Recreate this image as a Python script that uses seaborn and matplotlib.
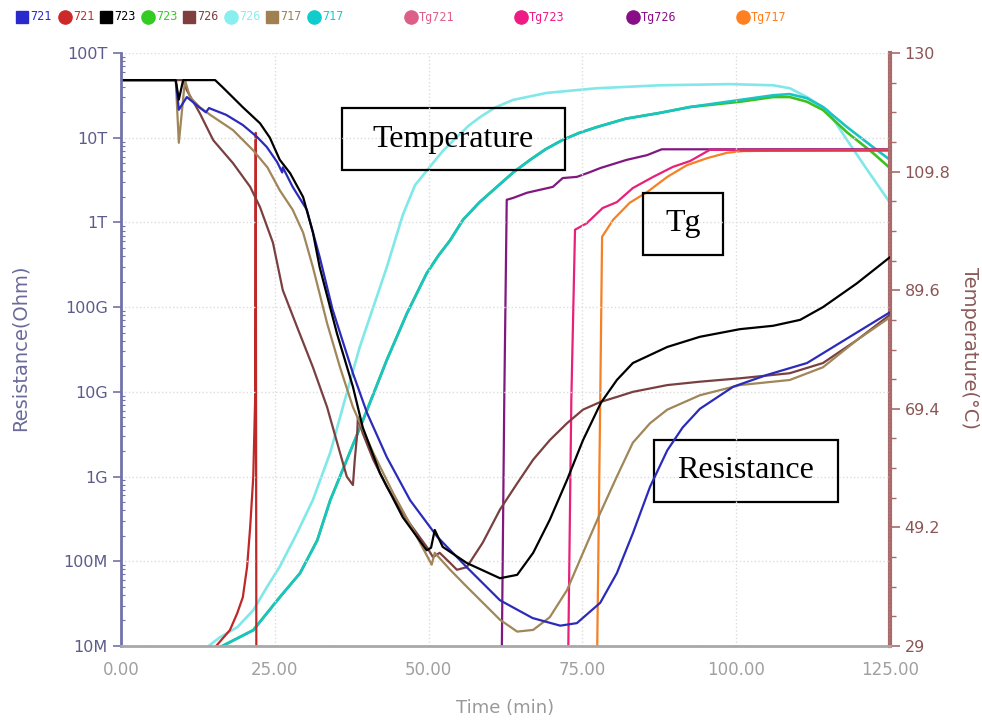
import numpy as np
import seaborn as sns
import matplotlib.pyplot as plt
from matplotlib.lines import Line2D
from matplotlib.patches import Rectangle
from matplotlib.ticker import FixedLocator, FixedFormatter, MultipleLocator, NullFormatter

# ---- resistance curves (time in min, log10 of resistance in Ohm)
t_721 = [0, 8.9, 9.4, 10.7, 12.7, 13.8, 14.3, 17.1, 19.8, 22.1, 23.7, 25.4, 26.2, 26.3, 27.9, 30.2, 32.3, 34.4, 37.7, 40.0,
         43.2, 47.0, 51.4, 56.2, 61.6, 66.9, 71.4, 74.1, 77.9, 80.6, 83.2, 86.0, 88.8, 91.3, 94.1, 99.5, 105.0, 111.5, 116.9, 125]
logr_721 = [13.68, 13.68, 13.33, 13.48, 13.36, 13.30, 13.35, 13.27, 13.15, 13.01, 12.89, 12.71, 12.59, 12.65, 12.42, 12.15, 11.59, 10.97, 10.22, 9.75,
            9.23, 8.72, 8.29, 7.93, 7.54, 7.33, 7.24, 7.27, 7.51, 7.86, 8.33, 8.88, 9.31, 9.58, 9.80, 10.06, 10.20, 10.34, 10.58, 10.94]

t_723 = [0, 8.9, 9.4, 10.1, 15.3, 16.6, 19.8, 22.6, 24.2, 25.8, 27.5, 29.6, 31.2, 32.3, 35.1, 37.7, 39.3, 42.1, 45.8, 49.7,
         50.4, 51.0, 52.3, 56.2, 61.6, 64.4, 67.0, 69.7, 72.5, 75.1, 78.0, 80.6, 83.2, 88.8, 94.1, 100.6, 106.0, 110.4, 114.1, 119.6, 125]
logr_723 = [13.68, 13.68, 13.45, 13.68, 13.68, 13.59, 13.36, 13.17, 13.0, 12.74, 12.58, 12.30, 11.88, 11.47, 10.69, 10.06, 9.58, 9.04, 8.52, 8.13,
            8.16, 8.37, 8.17, 7.98, 7.80, 7.84, 8.10, 8.49, 8.96, 9.43, 9.87, 10.14, 10.34, 10.53, 10.65, 10.74, 10.78, 10.85, 11.0, 11.28, 11.59]

t_726 = [0, 10.1, 10.7, 12.8, 15.0, 18.2, 21.0, 22.6, 24.7, 26.3, 28.6, 31.2, 33.5, 35.6, 36.7, 37.7, 38.0, 38.4, 38.5, 39.3,
         41.0, 43.2, 46.5, 49.7, 50.7, 51.8, 53.5, 54.6, 56.2, 58.8, 61.6, 64.4, 67.0, 69.7, 72.5, 75.1, 77.9, 80.6, 83.2, 88.8,
         94.1, 100.6, 108.7, 114.1, 119.6, 125]
logr_726 = [13.68, 13.68, 13.56, 13.29, 12.97, 12.70, 12.42, 12.18, 11.76, 11.20, 10.77, 10.29, 9.82, 9.28, 9.0, 8.90, 9.20, 9.51, 9.70, 9.51,
            9.20, 8.88, 8.49, 8.17, 8.05, 8.10, 7.98, 7.90, 7.93, 8.22, 8.61, 8.92, 9.20, 9.43, 9.63, 9.79, 9.88, 9.94, 10.0, 10.08,
            10.12, 10.16, 10.22, 10.34, 10.61, 10.91]

t_717 = [0, 8.9, 9.4, 10.4, 11.2, 12.8, 14.5, 18.2, 21.5, 23.8, 25.8, 27.9, 29.6, 31.2, 33.5, 35.6, 37.7, 41.0, 44.2, 47.5,
         50.5, 51.0, 53.5, 56.2, 61.6, 64.4, 67.0, 69.7, 72.5, 75.1, 77.9, 80.6, 83.2, 86.0, 88.8, 94.1, 100.6, 108.7, 114.1, 119.6, 125]
logr_717 = [13.68, 13.68, 12.94, 13.68, 13.48, 13.36, 13.27, 13.09, 12.85, 12.65, 12.38, 12.15, 11.88, 11.47, 10.81, 10.29, 9.82, 9.28, 8.81, 8.37,
            7.96, 8.10, 7.90, 7.70, 7.31, 7.17, 7.19, 7.34, 7.66, 8.10, 8.57, 9.0, 9.40, 9.63, 9.79, 9.96, 10.08, 10.14, 10.29, 10.61, 10.88]

# ---- temperature curves (deg C)
tT_721 = [15.3, 17.7, 18.9, 19.8, 20.5, 21.0, 21.5, 21.8, 21.9, 22.0]
temp_721 = [28.8, 31.7, 34.6, 37.3, 42.5, 49.3, 57.8, 70.9, 116.4, 28.0]

tT_723 = [16.1, 21.5, 25.8, 29.1, 31.9, 34.0, 36.7, 40.0, 43.2, 46.5, 49.7, 51.6, 53.5, 55.6, 58.3, 61.1, 63.8, 66.5, 69.0, 71.8,
          74.5, 77.4, 82.0, 87.6, 92.5, 100.6, 106.0, 108.7, 111.5, 114.1, 118.0, 122.2, 125]
temp_723 = [28.8, 31.7, 37.3, 41.4, 47.0, 53.8, 60.7, 69.2, 77.7, 85.7, 92.5, 95.5, 98.1, 101.6, 104.6, 107.2, 109.7, 111.8, 113.6, 115.2,
            116.4, 117.4, 118.8, 119.8, 120.8, 121.7, 122.5, 122.5, 121.7, 120.3, 116.5, 113.0, 110.4]

tT_726 = [14.0, 16.1, 18.9, 21.5, 23.7, 25.8, 28.6, 31.2, 34.0, 36.7, 38.8, 41.0, 43.2, 45.8, 47.8, 50.2, 52.3, 54.6, 56.5, 58.4,
          60.8, 63.7, 69.2, 77.4, 87.6, 99.0, 106.0, 108.7, 111.5, 114.8, 118.0, 121.3, 125]
temp_726 = [28.8, 30.5, 32.2, 35.1, 39.0, 42.5, 48.2, 53.9, 61.9, 72.1, 79.9, 86.7, 93.5, 102.4, 107.5, 110.6, 113.3, 115.7, 117.6, 119.1,
            120.7, 122.0, 123.2, 124.0, 124.5, 124.7, 124.5, 124.0, 122.5, 120.3, 115.2, 110.1, 104.5]

tT_717 = [16.1, 21.5, 25.8, 29.1, 31.9, 34.0, 36.7, 40.0, 43.2, 46.5, 49.7, 51.6, 53.5, 55.6, 58.3, 61.1, 63.8, 66.5, 69.0, 71.8,
          74.5, 77.4, 82.0, 87.6, 92.5, 100.6, 106.0, 108.7, 111.5, 114.1, 118.0, 122.2, 125]
temp_717 = [28.8, 31.7, 37.3, 41.4, 47.0, 53.8, 60.7, 69.2, 77.7, 85.7, 92.5, 95.5, 98.1, 101.6, 104.6, 107.2, 109.7, 111.8, 113.6, 115.2,
            116.4, 117.4, 118.8, 119.8, 120.8, 122.0, 122.8, 123.0, 122.3, 120.8, 117.4, 114.0, 111.8]

# ---- Tg curves (deg C)
tg_t_721 = [100.6, 125]
tg_721 = [113.4, 113.4]
tg_t_723 = [72.7, 73.2, 73.8, 75.7, 78.3, 80.6, 83.2, 86.5, 89.7, 92.5, 95.7, 125]
tg_723 = [28.0, 70.9, 99.9, 101.0, 103.6, 104.6, 107.0, 108.9, 110.6, 111.6, 113.5, 113.5]
tg_t_726 = [61.9, 62.3, 62.7, 63.7, 66.0, 70.2, 71.8, 74.1, 76.2, 77.9, 82.2, 85.5, 87.9, 125]
tg_726 = [28.0, 70.9, 105.0, 105.3, 106.2, 107.2, 108.7, 108.9, 109.7, 110.4, 111.8, 112.6, 113.6, 113.6]
tg_t_717 = [77.4, 77.9, 78.2, 80.0, 82.7, 85.5, 88.8, 92.0, 95.3, 98.5, 101.1, 125]
tg_717 = [28.0, 70.9, 98.7, 101.6, 104.5, 106.3, 108.9, 110.9, 112.1, 113.0, 113.3, 113.5]

res_ticks = [1e7, 1e8, 1e9, 1e10, 1e11, 1e12, 1e13, 1e14]
res_labels = ["10M", "100M", "1G", "10G", "100G", "1T", "10T", "100T"]
temp_ticks = [29, 49.2, 69.4, 89.6, 109.8, 130]
temp_labels = ["29", "49.2", "69.4", "89.6", "109.8", "130"]
time_ticks = [0, 25, 50, 75, 100, 125]

legend_items = [("721", "s", "#2a2acc"), ("721", "o", "#cc2a2a"), ("723", "s", "#000000"), ("723", "o", "#33cc22"),
                ("726", "s", "#7f3f3f"), ("726", "o", "#88eeee"), ("717", "s", "#a08050"), ("717", "o", "#11cccc"),
                ("Tg721", "o", "#dd5f88"), ("Tg723", "o", "#ee1b84"), ("Tg726", "o", "#880e88"), ("Tg717", "o", "#ff8020")]
legend_x = [22, 65, 106, 148, 189, 231, 272, 314, 411, 521, 633, 743]

sns.set_style("white")

W, H = 982, 721
fig = plt.figure(figsize=(9.82, 7.21), dpi=100)
ax = fig.add_axes([121 / W, 1 - 646 / H, (890 - 121) / W, (646 - 53) / H])
ax2 = ax.twinx()

ax.set_yscale("log")

def line(a, x, y, c, lw=1.6):
    sns.lineplot(x=x, y=y, ax=a, color=c, lw=lw, sort=False, estimator=None, legend=False)

# temperatures (right axis)
line(ax2, tT_726, temp_726, "#80e8e8", 1.9)
line(ax2, tT_723, temp_723, "#40c020", 1.9)
line(ax2, tT_717, temp_717, "#18c4c4", 1.9)
line(ax2, tT_721, temp_721, "#c02828", 1.6)
line(ax2, tg_t_726, tg_726, "#801880", 1.6)
line(ax2, tg_t_723, tg_723, "#e8207a", 1.6)
line(ax2, tg_t_717, tg_717, "#f58025", 1.6)
line(ax2, tg_t_721, tg_721, "#e03848", 1.8)

# resistances (left axis)
for tt, lr, c in [(t_726, logr_726, "#7a4040"), (t_717, logr_717, "#a08658"),
                  (t_721, logr_721, "#2b2bbb"), (t_723, logr_723, "#000000")]:
    sns.lineplot(x=tt, y=np.power(10.0, lr), ax=ax, color=c, lw=1.6, sort=False, estimator=None, legend=False)

ax.set_zorder(ax2.get_zorder() + 1)
ax.patch.set_visible(False)

ax.set_xlim(0, 125)
ax.set_ylim(1e7, 1e14)
ax2.set_ylim(29, 130)

ax.xaxis.set_major_locator(FixedLocator(time_ticks))
ax.set_xticklabels([f"{v:.2f}" for v in time_ticks])
ax.xaxis.set_minor_locator(MultipleLocator(5))
ax.yaxis.set_major_locator(FixedLocator(res_ticks))
ax.yaxis.set_major_formatter(FixedFormatter(res_labels))
ax.yaxis.set_minor_locator(FixedLocator([m * 10.0 ** e for e in range(7, 14) for m in range(2, 10)]))
ax.yaxis.set_minor_formatter(NullFormatter())
ax2.yaxis.set_major_locator(FixedLocator(temp_ticks))
ax2.yaxis.set_major_formatter(FixedFormatter(temp_labels))
ax2.yaxis.set_minor_locator(FixedLocator(list(np.arange(29, 130.01, 5.05))))

ax.grid(True, which="major", color="#dcdcdc", ls=":", lw=1)
ax.set_xlabel("")
ax.set_ylabel("")
ax2.set_ylabel("")

for s in ["top", "right"]:
    ax.spines[s].set_visible(False)
for s in ["top", "left", "bottom"]:
    ax2.spines[s].set_visible(False)
ax.spines["left"].set_color("#7272aa")
ax.spines["left"].set_linewidth(2)
ax.spines["bottom"].set_color("#a8a8a8")
ax.spines["bottom"].set_linewidth(2)
ax2.spines["right"].set_color("#a86a6a")
ax2.spines["right"].set_linewidth(3)

ax.tick_params(axis="x", which="major", length=6, width=1.2, color="#a8a8a8", labelcolor="#a0a0a0", labelsize=12, pad=5)
ax.tick_params(axis="x", which="minor", length=3, width=1, color="#a8a8a8")
ax.tick_params(axis="y", which="major", left=True, length=6, width=1.2, color="#7272aa", labelcolor="#5c5c8c", labelsize=11.5)
ax.tick_params(axis="y", which="minor", left=True, direction="in", length=3, width=0.8, color="#7272aa")
ax2.tick_params(axis="y", which="major", right=True, length=7, width=1.2, color="#a86a6a", labelcolor="#8b5555", labelsize=11.5)
ax2.tick_params(axis="y", which="minor", right=True, length=4, width=1, color="#a86a6a")

fig.text(20 / W, 1 - 348 / H, "Resistance(Ohm)", rotation=90, ha="center", va="center", color="#6a6a9a", fontsize=14)
fig.text(970 / W, 1 - 348 / H, "Temperature(°C)", rotation=270, ha="center", va="center", color="#8b5a5a", fontsize=14)
fig.text(505 / W, 1 - 708 / H, "Time (min)", ha="center", va="center", color="#999999", fontsize=13)

# legend row
for (lab, mk, c), x in zip(legend_items, legend_x):
    fig.add_artist(Line2D([x / W], [1 - 17 / H], transform=fig.transFigure, marker=mk, ls="",
                          ms=8.5 if mk == "s" else 9.5, color=c))
    fig.text((x + 8) / W, 1 - 17 / H, lab, ha="left", va="center", color=c, fontsize=8.5, family="DejaVu Sans Mono")

# annotation boxes
for txt, (x0, y0, x1, y1) in [("Temperature", (342, 108, 565, 170)), ("Tg", (643, 193, 723, 255)),
                              ("Resistance", (654, 440, 838, 502))]:
    fig.add_artist(Rectangle((x0 / W, 1 - y1 / H), (x1 - x0) / W, (y1 - y0) / H, transform=fig.transFigure,
                             fill=False, ec="black", lw=1.6))
    fig.text((x0 + x1) / 2 / W, 1 - (y0 + y1) / 2 / H, txt, ha="center", va="center",
             family="Liberation Serif", fontsize=23, color="black")

fig.savefig("out.png", dpi=100)
